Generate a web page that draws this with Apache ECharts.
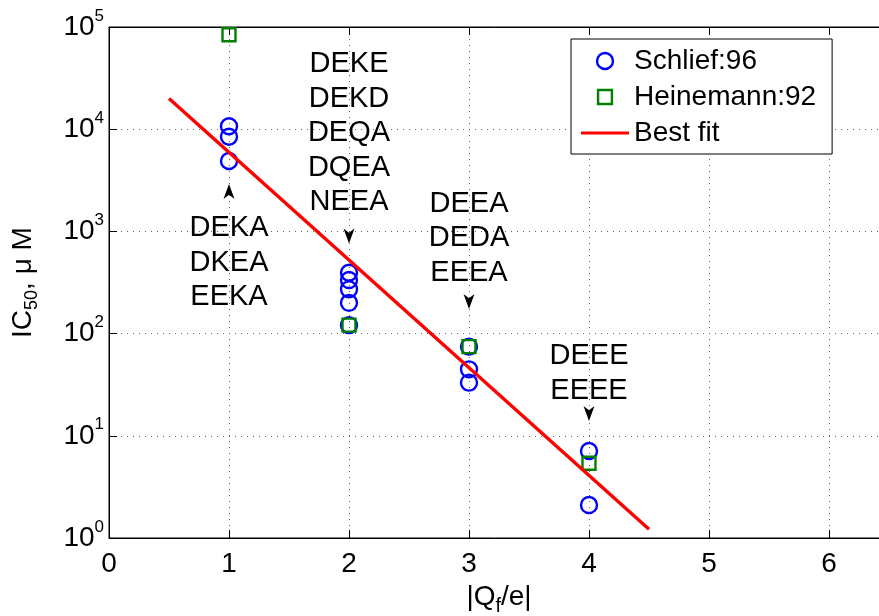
<!DOCTYPE html>
<html>
<head>
<meta charset="utf-8">
<script src="https://cdn.jsdelivr.net/npm/echarts@6/dist/echarts.min.js"></script>
<style>html,body{margin:0;padding:0;background:#fff}#c{width:879px;height:616px}</style>
</head>
<body>
<div id="c"></div>
<script>
// ---- data ----
const schliefX = [1, 1, 1, 2, 2, 2, 2, 2, 3, 3, 3, 4, 4];
const schliefY = [10700, 8450, 4890, 394, 334, 271, 200, 121, 74.5, 44.7, 33.1, 7.1, 2.1];
const heinX = [1, 2, 3, 4];
const heinY = [84000, 121, 74.5, 5.38];
const fitX = [0.5, 4.5];
const fitY = [20000, 1.22];
const annoX = [1, 2, 3, 4];
const annoY = [491, 9120, 856, 40.9];
const annoText = [
  ['DEKA', 'DKEA', 'EEKA'],
  ['DEKE', 'DEKD', 'DEQA', 'DQEA', 'NEEA'],
  ['DEEA', 'DEDA', 'EEEA'],
  ['DEEE', 'EEEE']
];
const arrowY = [2455, 902, 206, 16.5];
const arrowRot = [0, 180, 180, 180];
const xTicks = [0, 1, 2, 3, 4, 5, 6];
const seriesNames = ['Schlief:96', 'Heinemann:92', 'Best fit'];

const FONT = 'Liberation Sans, Arial, Helvetica, sans-serif';
const zip = (a, b) => a.map((v, i) => [v, b[i]]);

const chart = echarts.init(document.getElementById('c'), null, {renderer: 'canvas'});
const gridLine = {show: true, lineStyle: {color: '#666', type: [1, 5], width: 1}};

chart.setOption({
  animation: false,
  textStyle: {fontFamily: FONT},
  grid: {left: 109, top: 27, width: 780, height: 511, outerBoundsMode: 'none', containLabel: false,
    show: true, borderColor: '#000', borderWidth: 1, backgroundColor: '#fff'},
  legend: {
    data: [
      {name: seriesNames[0], icon: 'circle', itemStyle: {color: 'rgba(0,0,0,0)', borderColor: '#0000ff', borderWidth: 2.4, opacity: 1}},
      {name: seriesNames[1], icon: 'path://M-1,-1 M14,14 M0,0 L13,0 L13,13 L0,13 Z',
        itemStyle: {color: 'rgba(0,0,0,0)', borderColor: '#007f00', borderWidth: 2.4, opacity: 1}},
      {name: seriesNames[2], icon: 'path://M0,0 L48,0 L48,3 L0,3 Z', itemStyle: {color: '#ff0000', borderWidth: 0, opacity: 1}}
    ],
    orient: 'vertical',
    left: 571, top: 39,
    padding: [7, 16, 6, 10],
    itemGap: 6,
    itemWidth: 48, itemHeight: 16,
    backgroundColor: '#fff',
    borderColor: '#000', borderWidth: 1,
    textStyle: {fontSize: 28, color: '#000', fontFamily: FONT, lineHeight: 30},
    selectedMode: false
  },
  xAxis: [{
    type: 'value', min: 0, max: 6.5, interval: 1,
    name: '{a||Q}{s|f}{a|/e|}', nameLocation: 'middle', nameGap: 40,
    nameTextStyle: {color: '#000', rich: {
      a: {fontSize: 28, fontFamily: FONT, color: '#000'},
      s: {fontSize: 20, fontFamily: FONT, color: '#000', padding: [18, 0, 0, 0]}
    }},
    axisLine: {show: true, lineStyle: {color: '#000', width: 1}},
    axisTick: {show: true, inside: true, length: 8, lineStyle: {color: '#000'}},
    axisLabel: {fontSize: 28, color: '#000', margin: 12, fontFamily: FONT,
      formatter: v => (xTicks.indexOf(v) >= 0 ? String(v) : '')},
    splitLine: gridLine
  }, {
    type: 'value', min: 0, max: 6.5, interval: 1, position: 'top',
    axisLine: {show: true, lineStyle: {color: '#000', width: 1}},
    axisTick: {show: true, inside: true, length: 8, lineStyle: {color: '#000'}},
    axisLabel: {show: false}, splitLine: {show: false}
  }],
  yAxis: {
    type: 'log', logBase: 10, min: 1, max: 100000,
    name: '{a|IC}{s|50}{a|, μ M}', nameLocation: 'middle', nameGap: 68,
    nameTextStyle: {color: '#000', rich: {
      a: {fontSize: 28, fontFamily: FONT, color: '#000'},
      s: {fontSize: 18, fontFamily: FONT, color: '#000', padding: [18, 0, 0, 0]}
    }},
    axisLine: {show: true, lineStyle: {color: '#000', width: 1}},
    axisTick: {show: true, inside: true, length: 8, lineStyle: {color: '#000'}},
    minorTick: {show: false},
    axisLabel: {
      margin: 5, color: '#000',
      formatter: v => '{b|10}{s|' + Math.round(Math.log10(v)) + '}',
      rich: {
        b: {fontSize: 28, lineHeight: 30, fontFamily: FONT, color: '#000'},
        s: {fontSize: 17, lineHeight: 17, fontFamily: FONT, color: '#000', padding: [0, 0, 22, 0]}
      }
    },
    splitLine: gridLine
  },
  series: [{
    name: seriesNames[0], type: 'scatter', data: zip(schliefX, schliefY),
    symbol: 'circle', symbolSize: 16,
    itemStyle: {color: 'rgba(0,0,0,0)', borderColor: '#0000ff', borderWidth: 2.4, opacity: 1}
  }, {
    name: seriesNames[1], type: 'scatter', data: zip(heinX, heinY),
    symbol: 'rect', symbolSize: 13,
    itemStyle: {color: 'rgba(0,0,0,0)', borderColor: '#007f00', borderWidth: 2.4, opacity: 1}
  }, {
    name: seriesNames[2], type: 'line', data: zip(fitX, fitY),
    symbol: 'none', lineStyle: {color: '#ff0000', width: 3.4}, itemStyle: {color: '#ff0000'}
  }, {
    name: 'labels', type: 'scatter', silent: true,
    data: annoX.map((x, i) => ({value: [x, annoY[i]], text: annoText[i].join('\n')})),
    symbolSize: 0, itemStyle: {opacity: 1},
    label: {show: true, position: 'inside', color: '#000', opacity: 1, fontSize: 29, lineHeight: 34.5, fontFamily: FONT,
      formatter: p => p.data.text}
  }, {
    name: 'arrows', type: 'scatter', silent: true,
    data: annoX.map((x, i) => ({value: [x, arrowY[i]], symbolRotate: arrowRot[i]})),
    symbol: 'path://M5,0 L10,14 L5,10 L0,14 Z', symbolSize: [11, 15],
    itemStyle: {color: '#000', opacity: 1}
  }]
});
</script>
</body>
</html>
